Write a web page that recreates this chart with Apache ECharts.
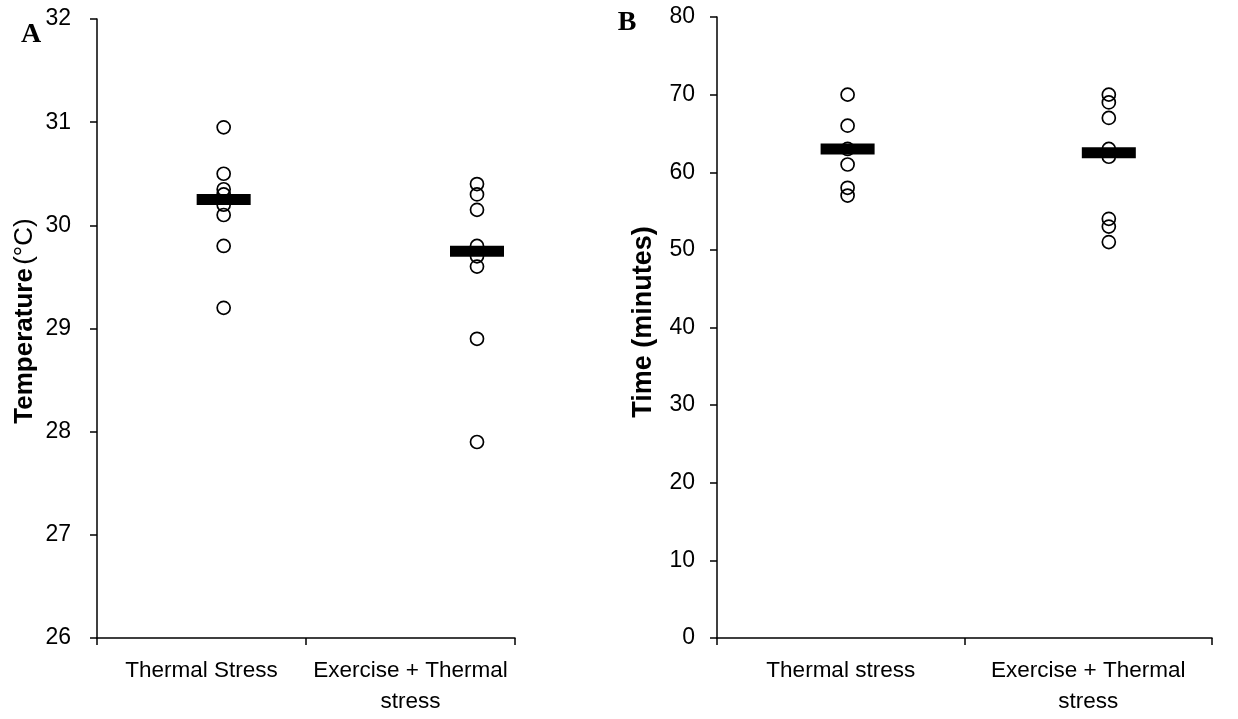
<!DOCTYPE html>
<html>
<head>
<meta charset="utf-8">
<script src="https://cdn.jsdelivr.net/npm/echarts@6/dist/echarts.min.js"></script>
<style>
html,body{margin:0;padding:0;background:#fff;}
#chart{width:1238px;height:719px;}
</style>
</head>
<body>
<div id="chart"></div>
<script>
// ---- data ----
const categoriesA = ['Thermal Stress', 'Exercise + Thermal\nstress'];
const categoriesB = ['Thermal stress', 'Exercise + Thermal\nstress'];
const groupPos = [1, 3]; // x positions of the two groups on the hidden scatter axis
const thermalA = [30.95, 30.5, 30.35, 30.3, 30.2, 30.1, 29.8, 29.2];
const exerciseA = [30.4, 30.3, 30.15, 29.8, 29.7, 29.6, 28.9, 27.9];
const meanA = [30.25, 29.75];
const thermalB = [70, 66, 63, 61, 58, 57];
const exerciseB = [70, 69, 67, 63, 62, 54, 53, 51];
const meanB = [63, 62.5];
const yTicksA = [26, 27, 28, 29, 30, 31, 32];
const yTicksB = [0, 10, 20, 30, 40, 50, 60, 70, 80];

const toPts = (vals, pos) => vals.map(v => [pos, v]);
const font = 'Liberation Sans, Arial, sans-serif';
const axisLine = {show: true, lineStyle: {color: '#000', width: 1.5}};
const axisTick = {show: true, length: 7, lineStyle: {color: '#000', width: 1.5}};
const catLabel = {color: '#000', fontSize: 22.5, fontFamily: font, margin: 17, lineHeight: 31, interval: 0};

const circleStyle = {color: 'rgba(0,0,0,0)', borderColor: '#000', borderWidth: 1.7, opacity: 1};

function pointSeries(data, xi, yi) {
  return {type: 'scatter', xAxisIndex: xi, yAxisIndex: yi, symbol: 'circle', symbolSize: 13,
    itemStyle: circleStyle, data: data, silent: true, z: 2};
}
function meanSeries(vals, xi, yi) {
  return {type: 'scatter', xAxisIndex: xi, yAxisIndex: yi, symbol: 'rect', symbolSize: [54, 11],
    itemStyle: {color: '#000', opacity: 1}, data: vals.map((v, i) => [groupPos[i], v]), silent: true, z: 3};
}

const chart = echarts.init(document.getElementById('chart'));
chart.setOption({
  backgroundColor: '#fff',
  animation: false,
  grid: [
    {left: 97, top: 19, width: 418, height: 619},
    {left: 717, top: 17, width: 495, height: 621}
  ],
  xAxis: [
    {type: 'category', gridIndex: 0, data: categoriesA, boundaryGap: true,
     axisLine: axisLine, axisTick: axisTick, axisLabel: catLabel, splitLine: {show: false}},
    {type: 'value', gridIndex: 0, min: 0, max: 3.3, show: false},
    {type: 'category', gridIndex: 1, data: categoriesB, boundaryGap: true,
     axisLine: axisLine, axisTick: axisTick, axisLabel: catLabel, splitLine: {show: false}},
    {type: 'value', gridIndex: 1, min: 0, max: 3.79, show: false}
  ],
  yAxis: [
    {type: 'value', gridIndex: 0, min: yTicksA[0], max: yTicksA[yTicksA.length - 1], interval: 1,
     axisLine: axisLine, axisTick: axisTick,
     axisLabel: {color: '#000', fontSize: 23, fontFamily: font, margin: 26},
     splitLine: {show: false}},
    {type: 'value', gridIndex: 1, min: yTicksB[0], max: yTicksB[yTicksB.length - 1], interval: 10,
     axisLine: axisLine, axisTick: axisTick,
     axisLabel: {color: '#000', fontSize: 23, fontFamily: font, margin: 22},
     splitLine: {show: false}}
  ],
  series: [
    pointSeries(toPts(thermalA, groupPos[0]), 1, 0),
    pointSeries(toPts(exerciseA, groupPos[1]), 1, 0),
    meanSeries(meanA, 1, 0),
    pointSeries(toPts(thermalB, groupPos[0]), 3, 1),
    pointSeries(toPts(exerciseB, groupPos[1]), 3, 1),
    meanSeries(meanB, 3, 1)
  ],
  graphic: [
    {type: 'text', x: 25, y: 321, rotation: Math.PI / 2,
     style: {text: '{b|Temperature} {n|(°C)}', align: 'center', verticalAlign: 'middle', fill: '#000',
       rich: {b: {fontSize: 26, fontWeight: 'bold', fontFamily: font, fill: '#000'},
              n: {fontSize: 26, fontWeight: 'normal', fontFamily: font, fill: '#000'}}}},
    {type: 'text', x: 644, y: 322, rotation: Math.PI / 2,
     style: {text: 'Time (minutes)', align: 'center', verticalAlign: 'middle', fill: '#000',
       font: 'bold 27px Liberation Sans, Arial, sans-serif'}},
    {type: 'text', x: 31, y: 35,
     style: {text: 'A', align: 'center', verticalAlign: 'middle', fill: '#000',
       font: 'bold 28px Liberation Serif, Times New Roman, serif'}},
    {type: 'text', x: 627, y: 23,
     style: {text: 'B', align: 'center', verticalAlign: 'middle', fill: '#000',
       font: 'bold 28px Liberation Serif, Times New Roman, serif'}}
  ]
});
</script>
</body>
</html>
